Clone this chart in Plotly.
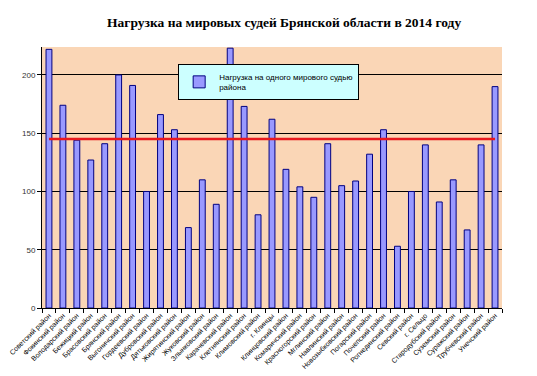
import plotly.graph_objects as go

categories = [
    "Советский район", "Фокинский район", "Володарский район", "Бежицкий район",
    "Брасовский район", "Брянский район", "Выгоничский район", "Гордеевский район",
    "Дубровский район", "Дятьковский район", "Жирятинский район", "Жуковский район",
    "Злынковский район", "Карачевский район", "Клетнянский район", "Климовский район",
    "г. Клинцы", "Клинцовский район", "Комаричский район", "Красногорский район",
    "Мглинский район", "Навлинский район", "Новозыбковский район", "Погарский район",
    "Почепский район", "Рогнединский район", "Севский район", "г. Сельцо",
    "Стародубский район", "Суземский район", "Суражский район", "Трубчевский район",
    "Унечский район",
]
load_per_judge = [
    222, 174, 144, 127, 141, 200, 191, 100, 166, 153, 69, 110, 89, 223, 173, 80,
    162, 119, 104, 95, 141, 105, 109, 132, 153, 53, 100, 140, 91, 110, 67, 140, 190,
]
reference_level = 145
y_ticks = [0, 50, 100, 150, 200]

fig = go.Figure()
fig.add_trace(go.Bar(
    x=categories, y=load_per_judge,
    name="Нагрузка на одного мирового судью<br>района",
    marker=dict(color="#9999FF", line=dict(color="#000080", width=1)),
    width=0.42,
))
fig.add_shape(type="line", xref="x", yref="y",
              x0=categories[0], x1=categories[-1],
              y0=reference_level, y1=reference_level,
              line=dict(color="#E8191E", width=2.5))

fig.update_layout(
    width=529, height=368,
    margin=dict(l=34, r=35, t=39, b=68),
    paper_bgcolor="white",
    plot_bgcolor="#FAD6B6",
    title=dict(text="<b>Нагрузка на мировых судей Брянской области в 2014 году</b>",
               x=0.522, xanchor="center", y=0.962, yanchor="middle",
               font=dict(family="Liberation Serif", size=13.5, color="black")),
    showlegend=True,
    legend=dict(x=0.296, y=0.935, xanchor="left", yanchor="top",
                bgcolor="#CCFFFF", bordercolor="black", borderwidth=1,
                font=dict(family="Liberation Sans", size=8, color="black"),
                itemwidth=30, tracegroupgap=0),
    bargap=0.5,
)
fig.update_xaxes(
    tickangle=-45, tickfont=dict(family="Liberation Sans", size=7, color="black"),
    showline=True, linecolor="black", linewidth=1,
    ticks="outside", tickson="boundaries", ticklen=4, tickcolor="black",
    showgrid=False, automargin=False,
)
fig.update_yaxes(
    range=[0, 224], tickvals=y_ticks,
    tickfont=dict(family="Liberation Sans", size=8, color="#333333"),
    showline=True, linecolor="black", linewidth=1,
    ticks="outside", ticklen=4, tickcolor="black",
    showgrid=True, gridcolor="black", gridwidth=1, zeroline=False,
    automargin=False,
)
fig.write_html("out.html")
